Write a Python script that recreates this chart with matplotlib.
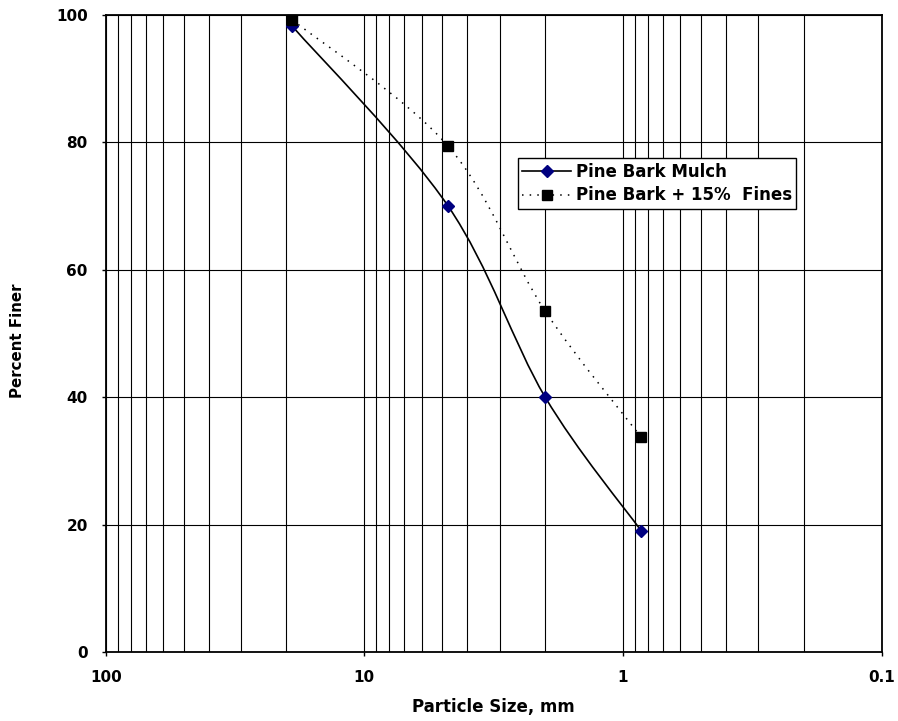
import numpy as np
import matplotlib
matplotlib.use("Agg")
import matplotlib.pyplot as plt
from matplotlib.path import Path
from matplotlib.patches import PathPatch
from matplotlib.lines import Line2D
from matplotlib.ticker import LogLocator, FuncFormatter

plt.rcParams['font.family'] = ['DejaVu Sans']
plt.rcParams['font.weight'] = 'bold'

# sieve data
sizes = [19.0, 4.75, 2.0, 0.85]
mulch = [98.2, 70.0, 40.0, 19.0]
fines = [99.2, 79.4, 53.5, 33.7]
labels = ['Pine Bark Mulch', 'Pine Bark + 15%  Fines']

DOTS = (0, (1, 4))


def smooth_path(x, y):
    # Excel-like smoothed line: cubic bezier through the points,
    # control points computed in log-x / linear-y space
    sx, sy = 776 / 3.0, 6.37
    u = -np.log10(np.array(x)) * sx
    v = np.array(y) * sy
    pts = np.column_stack([u, v])
    n = len(pts)
    verts = [pts[0]]
    codes = [Path.MOVETO]
    for i in range(n - 1):
        p0 = pts[i - 1] if i > 0 else pts[i]
        p1 = pts[i]
        p2 = pts[i + 1]
        p3 = pts[i + 2] if i + 2 < n else pts[i + 1]
        c1 = p1 + (p2 - p0) / 6.0
        c2 = p2 - (p3 - p1) / 6.0
        verts += [c1, c2, p2]
        codes += [Path.CURVE4] * 3
    verts = np.array(verts)
    data = np.column_stack([10 ** (-verts[:, 0] / sx), verts[:, 1] / sy])
    return Path(data, codes)


fig = plt.figure(figsize=(8.98, 7.21), dpi=100)
ax = fig.add_axes([0.1177, 0.0957, 0.8641, 0.8839])

ax.set_xscale('log')
ax.set_xlim(100, 0.1)
ax.set_ylim(0, 100)

ax.add_patch(PathPatch(smooth_path(sizes, mulch), fill=False, color='black', lw=1.2))
ax.add_patch(PathPatch(smooth_path(sizes, fines), fill=False, color='black', lw=1.1,
                       linestyle=DOTS))
ax.plot(sizes, mulch, linestyle='none', marker='D', color='#000080', ms=6.5, zorder=5, clip_on=False)
ax.plot(sizes, fines, linestyle='none', marker='s', color='black', ms=7.5, zorder=5, clip_on=False)

ax.xaxis.set_major_locator(LogLocator(base=10))
ax.xaxis.set_minor_locator(LogLocator(base=10, subs=np.arange(2, 10)))
ax.xaxis.set_major_formatter(FuncFormatter(lambda v, p: '%g' % v))
ax.xaxis.set_minor_formatter(FuncFormatter(lambda v, p: ''))
ax.set_yticks([0, 20, 40, 60, 80, 100])

ax.grid(which='both', axis='x', color='black', lw=0.8)
ax.grid(which='major', axis='y', color='black', lw=0.8)
ax.set_axisbelow(True)

ax.tick_params(which='major', direction='out', length=3, width=1, labelsize=11)
ax.tick_params(axis='x', pad=10)
ax.tick_params(axis='y', pad=10)
ax.tick_params(which='minor', length=0)
for lab in ax.get_xticklabels() + ax.get_yticklabels():
    lab.set_fontweight('bold')
for s in ax.spines.values():
    s.set_linewidth(1.3)
    s.set_color('black')

ax.set_xlabel('Particle Size, mm', fontsize=12, fontweight='bold')
ax.set_ylabel('Percent Finer', fontsize=10.8, fontweight='bold')
ax.xaxis.set_label_coords(0.5, -0.072)
ax.yaxis.set_label_coords(-0.104, 0.488)

handles = [
    Line2D([], [], color='black', lw=1.2, marker='D', markerfacecolor='#000080',
           markeredgecolor='#000080', ms=6.5),
    Line2D([], [], color='black', lw=1.1, linestyle=DOTS, marker='s',
           markerfacecolor='black', markeredgecolor='black', ms=7.5),
]
leg = ax.legend(handles, labels, loc='upper left', bbox_to_anchor=(0.5765, 0.7804),
                bbox_transform=fig.transFigure, borderaxespad=0, fancybox=False,
                framealpha=1, edgecolor='black', prop={'weight': 'bold', 'size': 12},
                handlelength=2.9, handletextpad=0.3, borderpad=0.28, labelspacing=0.33)
leg.get_frame().set_linewidth(1.0)

fig.savefig('out.png', dpi=100)
